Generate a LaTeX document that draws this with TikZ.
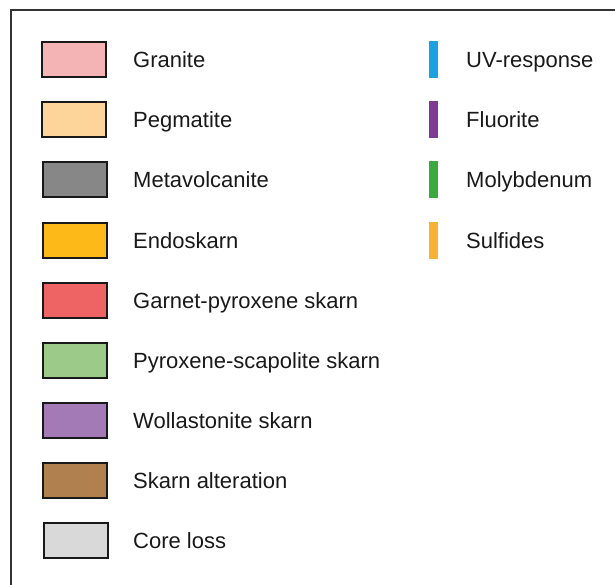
\documentclass[tikz,border=0pt]{standalone}
\usepackage{fontspec}
\setmainfont{Liberation Sans}
\definecolor{cGranite}{HTML}{F4B3B5}
\definecolor{cPeg}{HTML}{FDD49A}
\definecolor{cMeta}{HTML}{878787}
\definecolor{cEndo}{HTML}{FDB918}
\definecolor{cGarnet}{HTML}{EE6464}
\definecolor{cPyro}{HTML}{9CCB89}
\definecolor{cWoll}{HTML}{A47AB6}
\definecolor{cSkarn}{HTML}{B0804E}
\definecolor{cCore}{HTML}{D9D9D9}
\definecolor{cUV}{HTML}{1BA1DD}
\definecolor{cFluo}{HTML}{7F3B93}
\definecolor{cMoly}{HTML}{3BAA3E}
\definecolor{cSulf}{HTML}{F8B133}
\definecolor{cFrame}{HTML}{333333}
\begin{document}
\begin{tikzpicture}[x=1pt,y=-1pt,
  swatch/.style={draw=black!90,line width=2pt,minimum width=64pt,minimum height=35pt,inner sep=0pt,outer sep=0pt},
  bar/.style={minimum width=9pt,minimum height=37pt,inner sep=0pt,outer sep=0pt},
  lbl/.style={anchor=base west,inner sep=0pt,font=\fontsize{22pt}{26pt}\selectfont,text=black!90}]
\useasboundingbox (0,0) rectangle (615,585);
\clip (0,0) rectangle (615,585);
\draw[cFrame,line width=2pt] (11,10) rectangle (640,610);
\foreach \i/\c/\t/\dx in {0/cGranite/Granite/0, 1/cPeg/Pegmatite/0, 2/cMeta/Metavolcanite/1, 3/cEndo/Endoskarn/1, 4/cGarnet/Garnet-pyroxene skarn/1, 5/cPyro/Pyroxene-scapolite skarn/1, 6/cWoll/Wollastonite skarn/1, 7/cSkarn/Skarn alteration/1, 8/cCore/Core loss/2} {
  \node[swatch,fill=\c] (s\i) at (73.5+\dx,59.8+60.1*\i) {};
  \node[lbl] (t\i) at (133,67.8+60.1*\i) {\t};
}
\foreach \i/\c/\t in {0/cUV/UV-response, 1/cFluo/Fluorite, 2/cMoly/Molybdenum, 3/cSulf/Sulfides} {
  \node[bar,fill=\c] (b\i) at (433.5,59.8+60.1*\i) {};
  \node[lbl] (u\i) at (466,67.8+60.1*\i) {\t};
}
\end{tikzpicture}
\end{document}
